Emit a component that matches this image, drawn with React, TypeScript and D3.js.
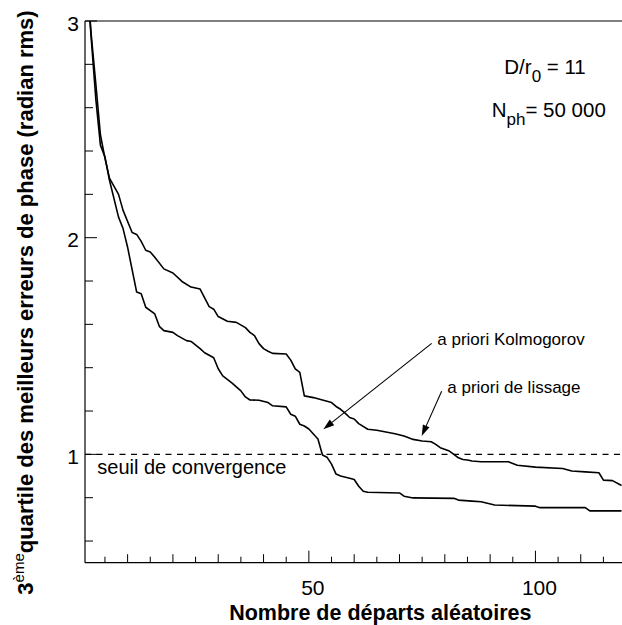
import React from "react";
import * as d3 from "d3";

const kolmogorov: [number, number][] = [
  [1, 3.2], [2, 2.913], [3, 2.637], [4, 2.427], [5, 2.373], [6, 2.265], [8, 2.095], [9, 2.042],
  [10, 1.956], [12, 1.749], [13, 1.741], [14, 1.679], [16, 1.648], [17, 1.591], [18, 1.571],
  [20, 1.563], [21, 1.548], [23, 1.525], [24, 1.521], [26, 1.488], [27, 1.469], [29, 1.446],
  [30, 1.395], [31, 1.3625], [33, 1.33], [35, 1.293], [36, 1.265], [37, 1.251], [39, 1.25],
  [41, 1.239], [42, 1.224], [45, 1.219], [46, 1.185], [47, 1.176], [48, 1.139], [49, 1.131],
  [50, 1.117], [51, 1.094], [52, 1.071], [53, 0.997], [54, 0.987], [55, 0.955], [56, 0.909],
  [57, 0.9], [59, 0.89], [60, 0.884], [61, 0.853], [62, 0.83], [63, 0.825], [70, 0.822],
  [71, 0.807], [73, 0.799], [82, 0.797], [83, 0.789], [86, 0.784], [88, 0.781], [91, 0.766],
  [100, 0.761], [101, 0.754], [111, 0.754], [112, 0.739], [119, 0.739],
];

const lissage: [number, number][] = [
  [1, 3.2], [2, 2.93], [3, 2.707], [4, 2.475], [5, 2.367], [6, 2.275], [8, 2.2], [9, 2.126],
  [11, 2.024], [12, 2.015], [13, 1.983], [14, 1.942], [15, 1.934], [16, 1.91], [18, 1.856],
  [20, 1.837], [22, 1.798], [24, 1.772], [26, 1.763], [28, 1.682], [29, 1.67], [30, 1.636],
  [32, 1.614], [34, 1.609], [36, 1.585], [37, 1.563], [38, 1.548], [39, 1.511], [40, 1.488],
  [41, 1.476], [42, 1.466], [45, 1.463], [46, 1.435], [47, 1.394], [48, 1.378], [49, 1.27],
  [51, 1.262], [53, 1.251], [55, 1.239], [56, 1.221], [57, 1.208], [58, 1.19], [59, 1.17],
  [60, 1.163], [61, 1.142], [63, 1.116], [65, 1.111], [67, 1.103], [69, 1.095], [71, 1.085],
  [73, 1.069], [75, 1.062], [77, 1.058], [78, 1.046], [79, 1.031], [81, 1.015], [82, 1.0],
  [83, 0.984], [84, 0.976], [85, 0.974], [86, 0.969], [88, 0.966], [94, 0.966], [96, 0.95],
  [100, 0.941], [106, 0.935], [108, 0.923], [111, 0.919], [114, 0.915], [115, 0.881],
  [117, 0.879], [119, 0.856],
];

const yTickLabels = [1, 2, 3];
const xTickLabels = [50, 100];
const threshold = 1;

const W = 622;
const H = 625;
const L = 85, R = 622, T = 21, B = 562.7;
const FONT = "'Liberation Sans', Arial, Helvetica, sans-serif";

export default function App() {
  const x = d3.scaleLinear().domain([0.6, 119.1]).range([L, R]);
  const y = d3.scaleLinear().domain([0.5, 3]).range([B, T]);
  const line = d3.line<[number, number]>().x((d) => x(d[0])).y((d) => y(d[1]));

  const yMinor = d3.range(0.6, 3.001, 0.2).map((v) => +v.toFixed(1));
  const xMinor = d3.range(5, 119, 5);

  const arrow = (x1: number, y1: number, x2: number, y2: number) => {
    const ax = x(x1), ay = y(y1), bx = x(x2), by = y(y2);
    const ang = Math.atan2(by - ay, bx - ax);
    const len = 11, hw = 3.6;
    const baseX = bx - len * Math.cos(ang), baseY = by - len * Math.sin(ang);
    const px = -Math.sin(ang) * hw, py = Math.cos(ang) * hw;
    return (
      <g>
        <line x1={ax} y1={ay} x2={baseX} y2={baseY} stroke="#000" strokeWidth={1.1} />
        <polygon
          points={`${bx},${by} ${baseX + px},${baseY + py} ${baseX - px},${baseY - py}`}
          fill="#000"
        />
      </g>
    );
  };

  return (
    <svg width={W} height={H} style={{ position: "absolute", left: 0, top: 0 }} fontFamily={FONT}>
      <rect x={0} y={0} width={W} height={H} fill="#fff" />
      <defs>
        <clipPath id="plot">
          <rect x={L} y={T} width={R - L} height={B - T} />
        </clipPath>
      </defs>

      {/* frame */}
      <line x1={L} y1={T} x2={R} y2={T} stroke="#000" strokeWidth={1} />
      <line x1={L} y1={T} x2={L} y2={B} stroke="#000" strokeWidth={1.2} />
      <line x1={L} y1={B} x2={R} y2={B} stroke="#000" strokeWidth={1.2} />

      {/* y ticks */}
      {yMinor.map((v) => {
        const major = Math.abs(v - Math.round(v)) < 1e-6;
        return (
          <line key={"yt" + v} x1={L} x2={L + (major ? 12 : 8)} y1={y(v)} y2={y(v)} stroke="#000" strokeWidth={1} />
        );
      })}
      {yTickLabels.map((v) => (
        <text key={"yl" + v} x={79} y={y(v) + 9.5} fontSize={21} textAnchor="end" fill="#000">
          {v}
        </text>
      ))}

      {/* x ticks */}
      {xMinor.map((v) => {
        const len = v % 50 === 0 ? 12 : v % 10 === 0 ? 8.5 : 6;
        return <line key={"xt" + v} x1={x(v)} x2={x(v)} y1={B} y2={B - len} stroke="#000" strokeWidth={1} />;
      })}
      {xTickLabels.map((v) => (
        <text key={"xl" + v} x={x(v) + 4} y={595} fontSize={21} textAnchor="middle" fill="#000">
          {v}
        </text>
      ))}

      {/* threshold */}
      <line x1={L} x2={R} y1={y(threshold)} y2={y(threshold)} stroke="#000" strokeWidth={1.1} strokeDasharray="6,5.5" />
      <text x={97.3} y={474} fontSize={20} fill="#000">seuil de convergence</text>

      {/* curves */}
      <g clipPath="url(#plot)" fill="none" stroke="#000" strokeWidth={1.6} strokeLinejoin="round">
        <path d={line(kolmogorov) || ""} />
        <path d={line(lissage) || ""} />
      </g>

      {/* annotations */}
      <text x={437.3} y={345} fontSize={17} fill="#000">a priori Kolmogorov</text>
      {arrow(77.1, 1.512, 53.2, 1.116)}
      <text x={447.3} y={393.3} fontSize={17} fill="#000">a priori de lissage</text>
      {arrow(79.3, 1.291, 74.9, 1.085)}

      <text x={504.3} y={74} fontSize={20.5} fill="#000">
        D/r<tspan dy={7.5} fontSize={17}>0</tspan>
        <tspan dy={-7.5}> = 11</tspan>
      </text>
      <text x={491.7} y={117.3} fontSize={20.5} fill="#000">
        N<tspan dy={7.5} fontSize={17}>ph</tspan>
        <tspan dy={-7.5}>= 50 000</tspan>
      </text>

      {/* axis titles */}
      <text x={380.3} y={620} fontSize={21.5} fontWeight="bold" textAnchor="middle" fill="#000">
        Nombre de départs aléatoires
      </text>
      <text
        transform={`translate(32.5,302.5) rotate(-90)`}
        fontSize={22}
        fontWeight="bold"
        textAnchor="middle"
        fill="#000"
      >
        3<tspan dy={-9} fontSize={15} fontWeight="normal">ème</tspan>
        <tspan dy={9}>quartile des meilleurs erreurs de phase (radian rms)</tspan>
      </text>
    </svg>
  );
}
